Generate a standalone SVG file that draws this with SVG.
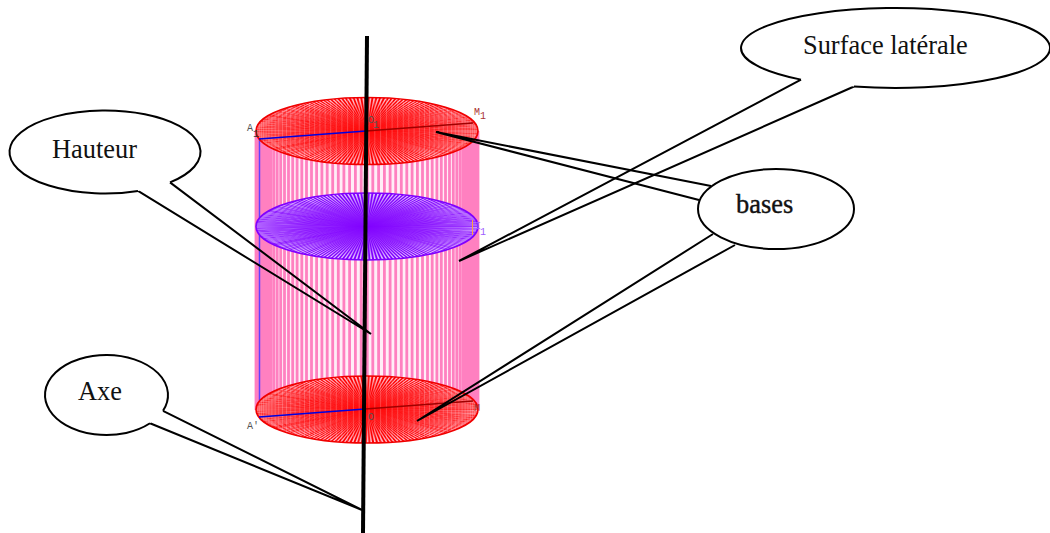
<svg xmlns="http://www.w3.org/2000/svg" xmlns:xlink="http://www.w3.org/1999/xlink" width="1050" height="533" viewBox="0 0 1050 533">
<style>
.cb{fill:#fff;stroke:#000;stroke-width:2}
.tl{fill:none;stroke:#000;stroke-width:2}
.lb{font-family:"Liberation Serif","Times New Roman",serif;font-size:26.400px;fill:#111}
.sm{font-family:"Liberation Mono",monospace;font-size:10px}
.disc{fill:none;stroke-width:1;stroke-dasharray:.0095 .00795}
.rim{fill:none;stroke-width:1.600;vector-effect:non-scaling-stroke}
.wall{stroke:#ff80c0;stroke-width:2.800;fill:none}
.moire{stroke:#fff;stroke-width:.8;stroke-opacity:.4;fill:none}
</style>
<defs>
<path id="v" d="M0 0v279M5.800 0v279M11.600 0v279M17.400 0v279M23.100 0v279M28.700 0v279M34.300 0v279M39.800 0v279M45.100 0v279M50.400 0v279M55.500 0v279M60.500 0v279M65.200 0v279M69.900 0v279M74.300 0v279M78.500 0v279M82.500 0v279M86.300 0v279M89.800 0v279M93.100 0v279M96.100 0v279M98.900 0v279M101.400 0v279M103.600 0v279M105.600 0v279M107.200 0v279M108.600 0v279M109.600 0v279M110.400 0v279M110.800 0v279M111 0v279"/>
<clipPath id="ct"><ellipse cx="367" cy="131" rx="110" ry="32.500"/></clipPath>
<clipPath id="cb"><ellipse cx="367" cy="409.500" rx="110" ry="32.500"/></clipPath>
<radialGradient id="gr"><stop offset="0" stop-color="#f00" stop-opacity=".95"/><stop offset=".55" stop-color="#f00" stop-opacity=".55"/><stop offset="1" stop-color="#f00" stop-opacity="0"/></radialGradient>
<radialGradient id="gp"><stop offset="0" stop-color="#8000ff" stop-opacity="1"/><stop offset=".55" stop-color="#8000ff" stop-opacity=".6"/><stop offset="1" stop-color="#8000ff" stop-opacity="0"/></radialGradient>
</defs>
<g id="cylinder">
<g id="lateral">
<rect x="256" y="131" width="222" height="279" fill="#ffeef7"/>
<use class="wall" xlink:href="#v" href="#v" transform="translate(367 131)"/>
<use class="wall" xlink:href="#v" href="#v" transform="translate(367 131) scale(-1 1)"/>
<path d="M259.500 139V417" stroke="#6040ff" stroke-width="1.500" fill="none"/>
</g>
<g id="top-base">
<g transform="translate(367 131) scale(111 33.500)">
<circle r="1" fill="#ffc8d8"/>
<circle r=".5" class="disc" stroke="#ff0000"/>
<circle r="1" fill="url(#gr)"/>
<circle r="1" class="rim" stroke="#f00000"/>
</g>
<g clip-path="url(#ct)">
<use class="moire" xlink:href="#v" href="#v" transform="translate(369 90) scale(1 .3)"/>
<use class="moire" xlink:href="#v" href="#v" transform="translate(365 90) scale(-1 .3)"/>
</g>
</g>
<g id="middle-section" transform="translate(367 226.500) scale(111 33.500)">
<circle r="1" fill="#e8d0ff"/>
<circle r=".5" class="disc" stroke="#8000ff"/>
<circle r="1" fill="url(#gp)"/>
<circle r="1" class="rim" stroke="#8000ff"/>
</g>
<g id="bottom-base">
<g transform="translate(367 409.500) scale(111 33.500)">
<circle r="1" fill="#ffc8d8"/>
<circle r=".5" class="disc" stroke="#ff0000"/>
<circle r="1" fill="url(#gr)"/>
<circle r="1" class="rim" stroke="#f00000"/>
</g>
<g clip-path="url(#cb)">
<use class="moire" xlink:href="#v" href="#v" transform="translate(369 370) scale(1 .3)"/>
<use class="moire" xlink:href="#v" href="#v" transform="translate(365 370) scale(-1 .3)"/>
</g>
</g>
<path d="M259 139L366 131" stroke="#0000e0" stroke-width="1.300" fill="none"/>
<path d="M366 131L473 123" stroke="#a00000" stroke-width="1.300" fill="none"/>
<path d="M259 417L365 409" stroke="#0000e0" stroke-width="1.300" fill="none"/>
<path d="M365 409L473 401" stroke="#a00000" stroke-width="1.300" fill="none"/>
<path d="M472.500 220V235" stroke="#ffa040" stroke-width="1" fill="none"/>
<text class="sm" x="247" y="131" fill="#555">A</text><text class="sm" x="253" y="137" fill="#333">1</text>
<text class="sm" x="368" y="123" fill="#555">O</text><text class="sm" x="373" y="128" fill="#555">1</text>
<text class="sm" x="474" y="115" fill="#a33">M</text><text class="sm" x="480" y="119" fill="#a33">1</text>
<text class="sm" x="475" y="229" fill="#a060ff">I</text><text class="sm" x="480" y="235" fill="#a060ff">1</text>
<text class="sm" x="247" y="429" fill="#555">A'</text>
<text class="sm" x="368" y="420" fill="#555">O</text>
<text class="sm" x="474" y="411" fill="#a33">M</text>
</g>
<g id="axis"><path d="M367 36L363 533" stroke="#000" stroke-width="4" fill="none"/></g>
<g id="connectors">
<path class="tl" d="M170 182.400L371 334L138 190.940"/>
<path class="tl" d="M150 423.280L362 510L163 410.800"/>
<path class="tl" d="M801 79.640L459 261L854 86.530"/>
<path class="tl" d="M711 186L436 132L699 200"/>
<path class="tl" d="M713 234L417 421L735 245"/>
</g>
<g id="hauteur">
<path class="cb" d="M138 190.940A95.500 41.500 0 1 1 170 182.400"/>
<text class="lb" x="52" y="158">Hauteur</text>
</g>
<g id="surface">
<path class="cb" d="M801 79.640A154.500 40 0 1 1 854 86.530"/>
<text class="lb" x="803" y="54">Surface latérale</text>
</g>
<g id="axe">
<path class="cb" d="M150 423.280A61.500 40 0 1 1 163 410.800"/>
<text class="lb" x="78" y="400">Axe</text>
</g>
<g id="bases">
<ellipse class="cb" cx="776" cy="209" rx="78" ry="40"/>
<text class="lb" x="736" y="213" stroke="#111" stroke-width=".4">bases</text>
</g>
</svg>
